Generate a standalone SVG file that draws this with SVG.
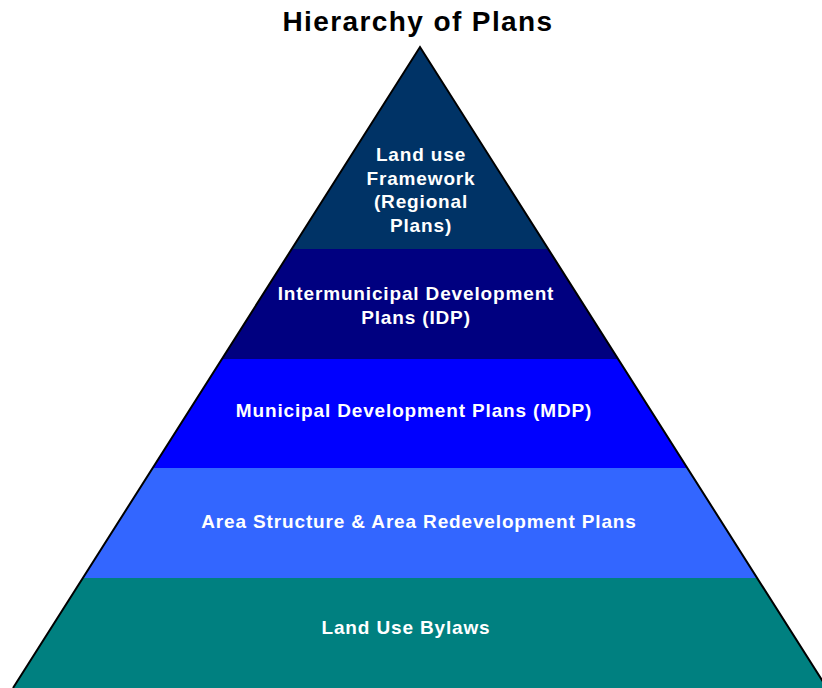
<svg xmlns="http://www.w3.org/2000/svg" width="822" height="688" viewBox="0 0 822 688">
<style>
.t{font-family:"Liberation Sans",Arial,sans-serif;font-weight:bold;font-size:19px;letter-spacing:0.85px;fill:#fff;text-anchor:middle}
.title{font-family:"Liberation Sans",Arial,sans-serif;font-weight:bold;font-size:28px;letter-spacing:1.4px;fill:#000;text-anchor:middle}
</style>
<rect width="822" height="688" fill="#fff"/>
<text class="title" x="418" y="31">Hierarchy of Plans</text>
<g id="level1">
<polygon points="420,47 548.3,249 291.7,249" fill="#003366"/>
<text class="t" x="421" y="161">Land use</text>
<text class="t" x="421" y="185">Framework</text>
<text class="t" x="421" y="208">(Regional</text>
<text class="t" x="421" y="232">Plans)</text>
</g>
<g id="level2">
<polygon points="291.7,249 548.3,249 618.1,359 221.9,359" fill="#000080"/>
<text class="t" x="416" y="300">Intermunicipal Development</text>
<text class="t" x="416" y="324">Plans (IDP)</text>
</g>
<g id="level3">
<polygon points="221.9,359 618.1,359 687.3,468 152.7,468" fill="#0000FF"/>
<text class="t" x="414" y="417">Municipal Development Plans (MDP)</text>
</g>
<g id="level4">
<polygon points="152.7,468 687.3,468 757.2,578 82.8,578" fill="#3366FF"/>
<text class="t" x="419" y="528">Area Structure &amp; Area Redevelopment Plans</text>
</g>
<g id="level5">
<polygon points="82.8,578 757.2,578 827,688 13,688" fill="#008080"/>
<text class="t" x="406" y="634">Land Use Bylaws</text>
</g>
<g id="connectors">
<polyline points="13,688 420,47 827,688" fill="none" stroke="#000" stroke-width="2" stroke-linejoin="miter"/>
</g>
</svg>
